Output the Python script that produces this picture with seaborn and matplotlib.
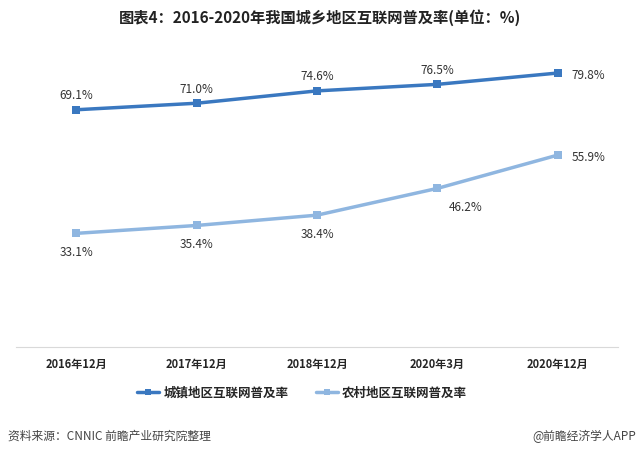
import pandas as pd
import seaborn as sns
import matplotlib.pyplot as plt

sns.set_style("white")
plt.rcParams['font.family'] = ['Noto Sans CJK SC', 'DejaVu Sans']

periods = ["2016年12月", "2017年12月", "2018年12月", "2020年3月", "2020年12月"]
urban = [69.1, 71.0, 74.6, 76.5, 79.8]
rural = [33.1, 35.4, 38.4, 46.2, 55.9]
urban_name = "城镇地区互联网普及率"
rural_name = "农村地区互联网普及率"

df = pd.DataFrame({
    "x": list(range(len(periods))) * 2,
    "value": urban + rural,
    "series": [urban_name] * len(urban) + [rural_name] * len(rural),
})

fig = plt.figure(figsize=(6.4, 4.55), dpi=100)
ax = fig.add_axes([16 / 640, 1 - 347 / 455, (618 - 16) / 640, (347 - 38) / 455])

palette = {urban_name: "#3a78c0", rural_name: "#8fb6e0"}
sns.lineplot(data=df, x="x", y="value", hue="series", palette=palette,
             marker="s", markersize=6, markeredgewidth=0, linewidth=2.5, ax=ax)

# 数据标签
urban_off = [(0, 10), (0, 10), (0, 10), (0, 10), (22, -2)]
rural_off = [(0, -14), (0, -14), (0, -14), (20, -14), (22, -2)]
for i, v in enumerate(urban):
    ax.annotate(f"{v:.1f}%", (i, v), xytext=urban_off[i], textcoords="offset points",
                ha="center", va="center", fontsize=8.5, color="#333333")
for i, v in enumerate(rural):
    ax.annotate(f"{v:.1f}%", (i, v), xytext=rural_off[i], textcoords="offset points",
                ha="center", va="center", fontsize=8.5, color="#333333")

ax.set_xlim(-0.5, 4.5)
ax.set_ylim(0, 90)
ax.set_xticks(range(len(periods)))
ax.set_xticklabels(periods, fontsize=8, fontweight="bold")
ax.tick_params(axis="x", length=0, pad=8)
ax.set_yticks([])
ax.set_xlabel("")
ax.set_ylabel("")
for s in ["top", "left", "right"]:
    ax.spines[s].set_visible(False)
ax.spines["bottom"].set_color("#d9d9d9")

leg = ax.legend(loc="center", bbox_to_anchor=(0.475, -0.149), ncol=2, frameon=False,
                prop={"size": 9, "weight": "bold"}, handlelength=1.8, handletextpad=0.3,
                columnspacing=2.2)
for h in leg.legend_handles:
    h.set_markersize(5)
    h.set_linewidth(2.5)

fig.text(0.5, 1 - 18 / 455, "图表4：2016-2020年我国城乡地区互联网普及率(单位：%)",
         ha="center", va="center", fontsize=11, fontweight="bold", color="#222222")
fig.text(8 / 640, 1 - 436 / 455, "资料来源：CNNIC 前瞻产业研究院整理",
         ha="left", va="center", fontsize=8.5, color="#444444")
fig.text(636 / 640, 1 - 436 / 455, "@前瞻经济学人APP",
         ha="right", va="center", fontsize=8.5, color="#444444")

fig.savefig("out.png", dpi=100)
